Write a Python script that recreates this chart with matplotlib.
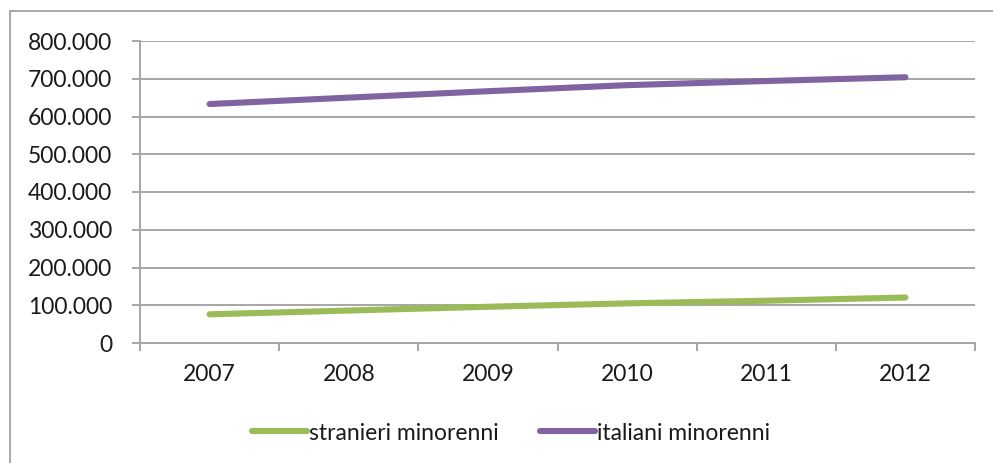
import matplotlib
matplotlib.use("Agg")
import matplotlib.pyplot as plt
from matplotlib.patches import Rectangle
from matplotlib.ticker import FuncFormatter, FixedLocator

anni = ["2007", "2008", "2009", "2010", "2011", "2012"]
stranieri = [76000, 86000, 96000, 105000, 112000, 120500]
italiani = [633000, 650000, 667000, 683000, 694000, 704000]
etichette = ["stranieri minorenni", "italiani minorenni"]

plt.rcParams["font.family"] = ["Lato", "DejaVu Sans"]
W, H = 993, 463
grigio = "#a6a6a6"
fs = 16.5

fig = plt.figure(figsize=(W / 100, H / 100), dpi=100)
ax = fig.add_axes([140 / W, (H - 343) / H, (975 - 140) / W, (343 - 41) / H])

# cornice esterna del grafico
fig.patches.append(Rectangle((10 / W, -0.2), 1.2, 1.2 - 11 / H,
                             transform=fig.transFigure, fill=False,
                             edgecolor="#a0a0a0", linewidth=1.3))

x = list(range(len(anni)))
ax.plot(x, stranieri, color="#9bbb59", linewidth=4.4, solid_capstyle="round",
        label=etichette[0], zorder=3)
ax.plot(x, italiani, color="#8064a2", linewidth=4.4, solid_capstyle="round",
        label=etichette[1], zorder=3)

ax.set_xlim(-0.5, len(anni) - 0.5)
ax.set_ylim(0, 800000)
ax.set_yticks(range(0, 800001, 100000))
ax.yaxis.set_major_formatter(FuncFormatter(lambda v, p: f"{int(v):,}".replace(",", ".")))
ax.yaxis.grid(True, color=grigio, linewidth=1.4)
ax.set_axisbelow(True)

# tacche tra le categorie, etichette al centro
ax.xaxis.set_major_locator(FixedLocator([i - 0.5 for i in range(len(anni) + 1)]))
ax.xaxis.set_major_formatter(FuncFormatter(lambda v, p: ""))
ax.set_xticks(x, minor=True)
ax.set_xticklabels(anni, minor=True)
ax.tick_params(axis="x", which="major", length=6, width=1.4, color=grigio)
ax.tick_params(axis="x", which="minor", length=0, pad=15, labelsize=fs, labelcolor="#1a1a1a")
ax.tick_params(axis="y", length=6, width=1.4, color=grigio, pad=14, labelsize=fs,
               labelcolor="#1a1a1a")

for s in ["top", "right"]:
    ax.spines[s].set_visible(False)
for s in ["left", "bottom"]:
    ax.spines[s].set_color(grigio)
    ax.spines[s].set_linewidth(1.4)

fig.legend(loc="center", bbox_to_anchor=(511 / W, (H - 433) / H), ncol=2,
           frameon=False, fontsize=fs, handlelength=2.4, handletextpad=0.1,
           columnspacing=1.8, labelcolor="#1a1a1a")

fig.savefig("out.png", dpi=100)
